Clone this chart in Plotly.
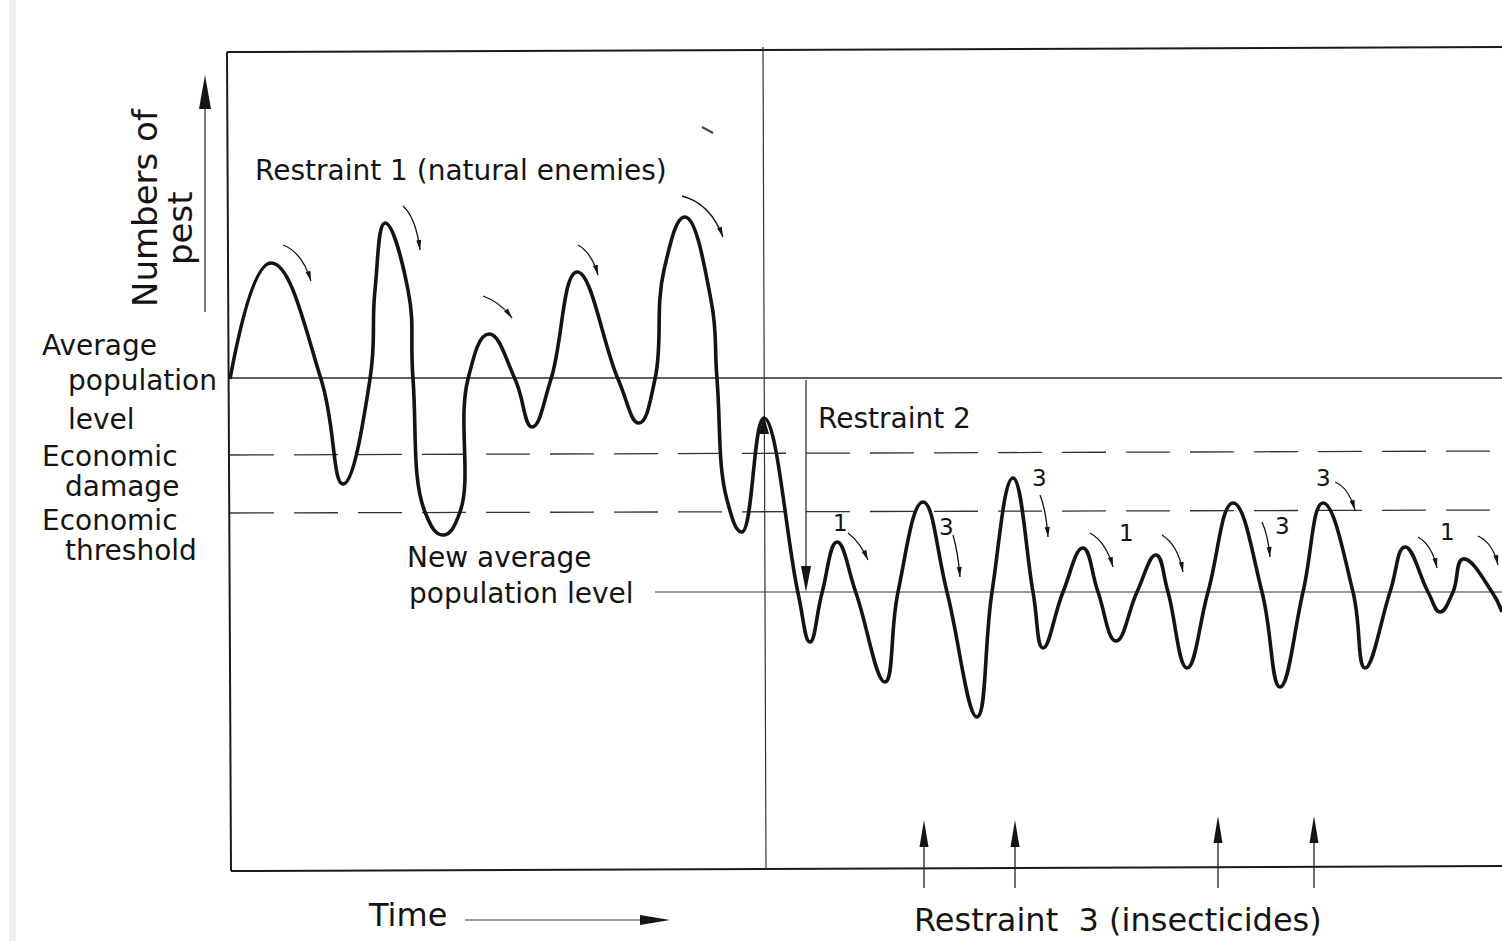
import plotly.graph_objects as go

# ---------------- data ----------------
# time axis: 0 = left edge of the frame; numbers: 0 = bottom of the frame
time = [2, 43, 93, 115, 142, 147, 157, 180, 185, 197, 215, 232, 240, 261, 287, 304,
        323, 349, 390, 411, 427, 436, 457, 483, 489, 499, 514, 536, 570, 582, 594,
        609, 628, 657, 670, 695, 719, 749, 764, 785, 805, 815, 835, 855, 870, 888,
        909, 928, 940, 959, 980, 1005, 1034, 1052, 1075, 1095, 1125, 1137, 1162,
        1177, 1200, 1212, 1225, 1235, 1264, 1274]
numbers = [491, 607, 491, 386, 491, 580, 647, 580, 491, 358, 335, 358, 491, 536, 491, 443,
           491, 598, 491, 447, 491, 600, 653, 570, 491, 370, 338, 452, 277, 228, 277,
           328, 277, 188, 278, 368, 278, 153, 278, 392, 278, 222, 278, 322, 278, 229,
           278, 315, 278, 202, 278, 367, 278, 183, 278, 367, 278, 202, 278,
           323, 278, 258, 278, 311, 278, 258]

avg_level = 492               # average population level
damage_level = [415, 419]     # economic damage (left, right)
threshold_level = [357, 360]  # economic threshold (left, right)
new_avg_level = 278           # new average population level
new_avg_start = 427
restraint2_time = 578
change_time = [535, 538]      # vertical divider (top, bottom)
insecticide_times = [696, 787, 990, 1086]
insecticide_tips = [50, 50, 54, 54]

# small restraint arrows: (tail, control, head)
enemy_arrows = [((55, 625), (74, 618), (83, 589)),
                ((175, 664), (188, 652), (192, 620)),
                ((255, 574), (272, 568), (284, 552)),
                ((350, 625), (364, 617), (370, 595)),
                ((454, 674), (482, 667), (495, 633))]
later_arrows = [((620, 337), (632, 328), (640, 310)),
                ((725, 335), (730, 318), (732, 293)),
                ((812, 375), (818, 360), (820, 333)),
                ((862, 337), (878, 328), (885, 303)),
                ((934, 335), (950, 325), (955, 298)),
                ((1034, 348), (1040, 335), (1042, 313)),
                ((1107, 388), (1120, 383), (1127, 360)),
                ((1190, 333), (1204, 325), (1209, 302)),
                ((1250, 334), (1265, 327), (1270, 305))]
arrow_labels = ["1", "3", "3", "1", "3", "3", "1"]
arrow_label_x = [612, 718, 811, 898, 1054, 1095, 1219]
arrow_label_y = [347, 343, 392, 337, 344, 392, 338]

INK = "#141414"
FONT = "DejaVu Sans"

fig = go.Figure()
fig.add_trace(go.Scatter(x=time, y=numbers, mode="lines",
                         line=dict(color=INK, width=3.6, shape="spline", smoothing=1.3),
                         hoverinfo="skip"))

shapes = []


def seg(x0, y0, x1, y1, w=1.3, color="#222", dash="solid", layer="below"):
    shapes.append(dict(type="line", xref="x", yref="y", x0=x0, y0=y0, x1=x1, y1=y1,
                       line=dict(color=color, width=w, dash=dash), layer=layer))


def head(tip, frm, L, W):
    dx, dy = tip[0] - frm[0], tip[1] - frm[1]
    n = (dx * dx + dy * dy) ** 0.5
    ux, uy = dx / n, dy / n
    bx, by = tip[0] - ux * L, tip[1] - uy * L
    px, py = -uy * W / 2, ux * W / 2
    path = f"M {tip[0]},{tip[1]} L {bx + px},{by + py} L {bx - px},{by - py} Z"
    shapes.append(dict(type="path", xref="x", yref="y", path=path,
                       fillcolor=INK, line=dict(width=0), layer="above"))


def curved_arrow(t, c, h, w=1.3):
    shapes.append(dict(type="path", xref="x", yref="y",
                       path=f"M {t[0]},{t[1]} Q {c[0]},{c[1]} {h[0]},{h[1]}",
                       line=dict(color=INK, width=w), fillcolor="rgba(0,0,0,0)",
                       layer="above"))
    head(h, c, 10, 5)


# frame
seg(-1, 818, 3, -1, w=2, color="#1a1a1a")
seg(-1, 818, 1274, 823, w=2, color="#1a1a1a")
seg(3, -1, 1274, 4, w=2, color="#1a1a1a")
# faint scan edge
shapes.append(dict(type="rect", xref="x", yref="y", x0=-219, x1=-212, y0=-71, y1=870,
                   fillcolor="#f1f1f1", line=dict(width=0), layer="below"))
# divider
seg(change_time[0], 823, change_time[1], 0, w=1.2, color="#333")
# levels
seg(2, avg_level, 1274, avg_level, w=1.3, color="#2a2a2a")
seg(2, damage_level[0], 1274, damage_level[1], w=1.3, color="#333", dash="44px,20px")
seg(2, threshold_level[0], 1274, threshold_level[1], w=1.3, color="#333", dash="44px,20px")
seg(new_avg_start, new_avg_level, 1274, new_avg_level, w=1.2, color="#333")
# restraint 2 arrow
seg(restraint2_time, avg_level - 2, restraint2_time, new_avg_level + 20, w=1.2, color="#222", layer="above")
head((restraint2_time, new_avg_level), (restraint2_time, avg_level), 26, 10)
# y-axis arrow
seg(-23, 558, -23, 770, w=1.2, color="#222", layer="above")
head((-23, 795), (-23, 558), 34, 12)
# time arrow
seg(237, -50, 420, -50, w=1.2, color="#333", layer="above")
head((442, -50), (237, -50), 30, 10)
# insecticide arrows
for tx, ty in zip(insecticide_times, insecticide_tips):
    seg(tx, -18, tx, ty - 20, w=1.3, color="#222", layer="above")
    head((tx, ty), (tx, -18), 27, 9)
# sharp peak blob
head((536, 454), (536, 430), 18, 10)
# stray mark
seg(474, 743, 485, 737, w=2, color="#444", layer="above")

for t, c, h in enemy_arrows + later_arrows:
    curved_arrow(t, c, h)

ann = []


def txt(x, y, s, size=28, xa="left", angle=0):
    ann.append(dict(x=x, y=y, xref="x", yref="y", text=s, showarrow=False,
                    xanchor=xa, yanchor="middle", textangle=angle,
                    font=dict(family=FONT, size=size, color=INK)))


txt(25, 700, "Restraint 1 (natural enemies)", 28)
txt(588, 452, "Restraint 2", 28)
txt(-188, 525, "Average", 28)
txt(-162, 490, "population", 28)
txt(-162, 451, "level", 28)
txt(-188, 414, "Economic", 28)
txt(-165, 384, "damage", 28)
txt(-188, 350, "Economic", 28)
txt(-165, 320, "threshold", 28)
txt(177, 313, "New average", 28)
txt(179, 277, "population level", 28)
txt(138, -45, "Time", 32)
txt(684, -50, "Restraint&nbsp;&nbsp;3 (insecticides)", 32)
txt(-83, 662, "Numbers of", 34, xa="center", angle=-90)
txt(-48, 642, "pest", 34, xa="center", angle=-90)
for s, x, y in zip(arrow_labels, arrow_label_x, arrow_label_y):
    txt(x, y, s, 23, xa="center")

fig.update_layout(
    width=1502, height=941, margin=dict(l=0, r=0, t=0, b=0, pad=0),
    paper_bgcolor="white", plot_bgcolor="white", showlegend=False,
    xaxis=dict(range=[-228, 1274], visible=False, fixedrange=True),
    yaxis=dict(range=[-71, 870], visible=False, fixedrange=True),
    shapes=shapes, annotations=ann,
)
fig.write_html("out.html", config={"displayModeBar": False},
               post_script="document.body.style.margin='0';"
                           "document.body.style.overflow='hidden';")
